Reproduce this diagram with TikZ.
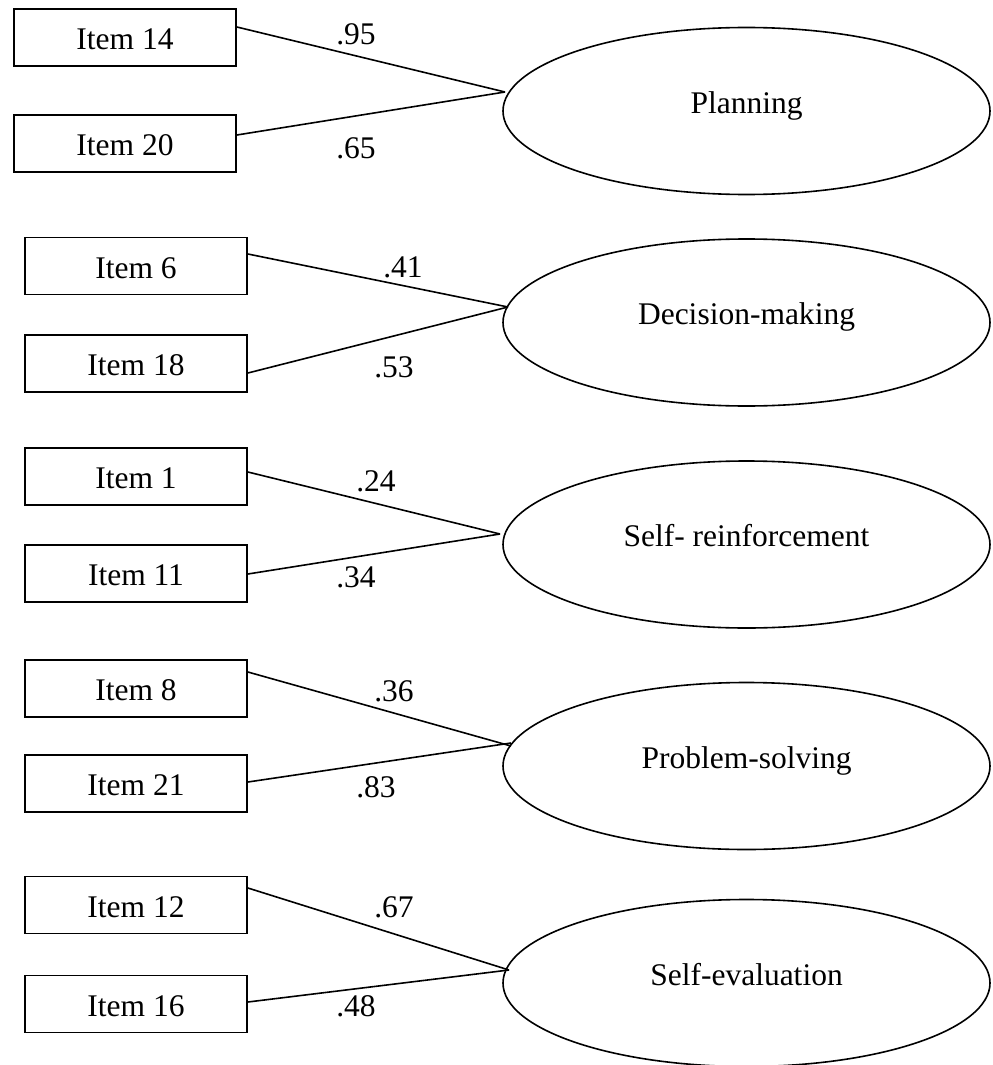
\documentclass[tikz,border=0pt]{standalone}
\usepackage{fontspec}
\setmainfont{Liberation Serif}
\usetikzlibrary{shapes.geometric,calc}
\tikzset{
  txt/.style={font=\fontsize{15.75pt}{18pt}\selectfont},
  item/.style={txt, draw, line width=0.9pt, rectangle, minimum width=111pt,
    minimum height=28.5pt, inner sep=0pt, text height=12pt, text depth=0pt},
  factor/.style={txt, draw, line width=0.8pt, ellipse, minimum width=243.5pt,
    minimum height=83.5pt, inner sep=0pt, text height=10.5pt, text depth=8.5pt},
  loading/.style={txt, inner sep=0pt},
  link/.style={line width=0.8pt}
}
\begin{document}
\begin{tikzpicture}[x=0.5pt,y=-0.5pt]
\clip (0,0) rectangle (992,1065);
\fill[white] (0,0) rectangle (992,1065);

% Planning
\node[item] (i14) at (125,37.5) {Item 14};
\node[item] (i20) at (125,143.5) {Item 20};
\node[factor] (plan) at (746.5,111) {Planning};
\coordinate (jplan) at ($(plan.center)+(-241.5,-19)$);
\draw[link] ($(i14.east)+(0,-10.5)$) -- (jplan);
\draw[link] ($(i20.east)+(0,-8.5)$) -- (jplan);
\node[loading] (l95) at (356,34) {.95};
\node[loading] (l65) at (356,148) {.65};

% Decision-making
\node[item] (i6) at (136,266) {Item 6};
\node[item] (i18) at (136,363.5) {Item 18};
\node[factor] (dec) at (746.5,322.5) {Decision-making};
\coordinate (jdec) at ($(dec.center)+(-238.5,-15.5)$);
\draw[link] ($(i6.east)+(0,-12)$) -- (jdec);
\draw[link] ($(i18.east)+(0,9.5)$) -- (jdec);
\node[loading] (l41) at (403,267) {.41};
\node[loading] (l53) at (394,367) {.53};

% Self-reinforcement
\node[item] (i1) at (136,476.5) {Item 1};
\node[item] (i11) at (136,573.5) {Item 11};
\node[factor] (sre) at (746.5,544.5) {Self- reinforcement};
\coordinate (jsre) at ($(sre.center)+(-246.5,-10.5)$);
\draw[link] ($(i1.east)+(0,-4.5)$) -- (jsre);
\draw[link] ($(i11.east)+(0,0.5)$) -- (jsre);
\node[loading] (l24) at (376,481) {.24};
\node[loading] (l34) at (356,577) {.34};

% Problem-solving
\node[item] (i8) at (136,688.5) {Item 8};
\node[item] (i21) at (136,783.5) {Item 21};
\node[factor] (pro) at (746.5,766) {Problem-solving};
\coordinate (jproa) at ($(pro.center)+(-235.5,-20)$);
\coordinate (jprob) at ($(pro.center)+(-235.5,-23)$);
\draw[link] ($(i8.east)+(0,-16.5)$) -- (jproa);
\draw[link] ($(i21.east)+(0,-1.5)$) -- (jprob);
\node[loading] (l36) at (394,691) {.36};
\node[loading] (l83) at (376,787) {.83};

% Self-evaluation
\node[item] (i12) at (136,905) {Item 12};
\node[item] (i16) at (136,1004) {Item 16};
\node[factor] (sev) at (746.5,983) {Self-evaluation};
\coordinate (jsev) at ($(sev.center)+(-237.5,-13)$);
\draw[link] ($(i12.east)+(0,-17)$) -- (jsev);
\draw[link] ($(i16.east)+(0,-2)$) -- (jsev);
\node[loading] (l67) at (394,907) {.67};
\node[loading] (l48) at (356,1006) {.48};
\end{tikzpicture}
\end{document}
